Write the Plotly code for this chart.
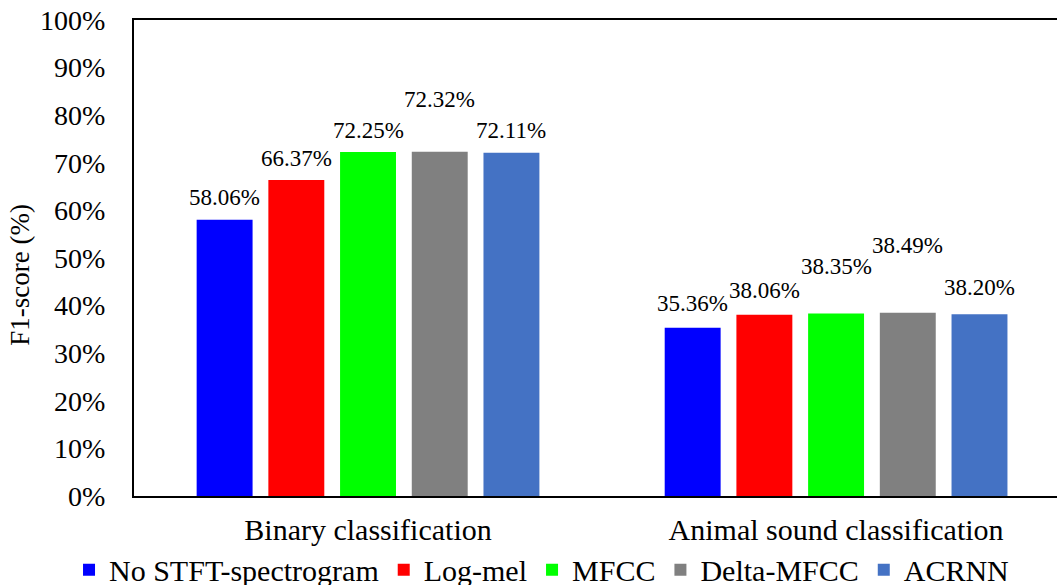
import plotly.graph_objects as go

categories = ["Binary classification", "Animal sound classification"]
series_names = ["No STFT-spectrogram", "Log-mel", "MFCC", "Delta-MFCC", "ACRNN"]
values_binary = [58.06, 66.37, 72.25, 72.32, 72.11]
values_animal = [35.36, 38.06, 38.35, 38.49, 38.20]
colors = ["#0000FF", "#FF0000", "#00FF00", "#808080", "#4472C4"]
# label lift above bar top (px), per category / series
label_lift = [[22, 22, 22, 52, 22], [24, 24, 47, 67, 27]]
y_ticks = [0, 10, 20, 30, 40, 50, 60, 70, 80, 90, 100]
y_title = "F1-score (%)"

FONT = "Times New Roman"
BARGAP = 0.234
GROUPGAP = 0.22

fig = go.Figure()
for i, name in enumerate(series_names):
    fig.add_trace(go.Bar(
        name=name,
        x=categories,
        y=[values_binary[i], values_animal[i]],
        marker=dict(color=colors[i], line=dict(width=0)),
    ))

slot = (1 - BARGAP) / len(series_names)
annotations = []
for c, vals in enumerate([values_binary, values_animal]):
    for i, v in enumerate(vals):
        annotations.append(dict(
            x=c + (i - (len(series_names) - 1) / 2) * slot,
            y=v, xref="x", yref="y",
            text=f"{v:.2f}%", showarrow=False,
            yanchor="middle", yshift=label_lift[c][i],
            font=dict(family=FONT, size=23, color="black"),
        ))
# y-axis title
annotations.append(dict(
    x=-0.1235, y=0.465, xref="paper", yref="paper",
    text=y_title, textangle=-90, showarrow=False,
    xanchor="center", yanchor="middle",
    font=dict(family=FONT, size=27, color="black"),
))

fig.update_layout(
    width=1057, height=585,
    margin=dict(l=134, r=0, t=20, b=89, autoexpand=False),
    paper_bgcolor="white", plot_bgcolor="white",
    barmode="group", bargap=BARGAP, bargroupgap=GROUPGAP,
    font=dict(family=FONT, color="black"),
    annotations=annotations,
    showlegend=True,
    legend=dict(
        orientation="h", xref="paper", x=-0.0704, xanchor="left",
        yref="paper", y=-0.155, yanchor="middle",
        font=dict(family=FONT, size=30, color="black"),
        itemwidth=30, traceorder="normal",
        bgcolor="rgba(0,0,0,0)",
    ),
)
fig.update_xaxes(
    type="category", range=[-0.5, 1.472],
    showline=True, linecolor="black", linewidth=2, mirror=True,
    showgrid=False, ticks="", tickfont=dict(family=FONT, size=30, color="black"),
    ticklabelstandoff=6, automargin=False,
)
fig.update_yaxes(
    range=[0, 100], tickvals=y_ticks, ticktext=[f"{t}%" for t in y_ticks],
    showline=True, linecolor="black", linewidth=2, mirror=False,
    showgrid=False, zeroline=False, ticks="",
    tickfont=dict(family=FONT, size=28, color="black"),
    ticklabelstandoff=21,
    automargin=False,
)

fig.write_html("out.html", config={"displayModeBar": False},
               post_script="document.body.style.margin='0';")
